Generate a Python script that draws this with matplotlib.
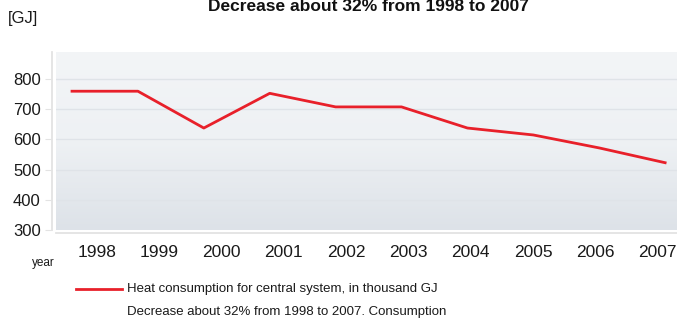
import matplotlib
matplotlib.use("Agg")
import matplotlib.pyplot as plt
import numpy as np

years = ["1998", "1999", "2000", "2001", "2002", "2003", "2004", "2005", "2006", "2007"]
heat = [760, 760, 638, 753, 708, 708, 638, 615, 572, 523]
y_ticks = [300, 400, 500, 600, 700, 800]

plt.rcParams["font.family"] = ["Liberation Sans", "DejaVu Sans"]

RED = "#e8202a"
TXT = "#1a1a1a"
fig = plt.figure(figsize=(6.77, 3.22), dpi=100)
ax = fig.add_axes([56 / 677, 1 - 230 / 322, 621 / 677, 178 / 322])

# 배경 그라데이션 (위 밝게 → 아래 약간 어둡게)
grad = np.linspace(0, 1, 256).reshape(-1, 1)
cmap = matplotlib.colors.LinearSegmentedColormap.from_list(
    "bg", ["#f3f5f7", "#eef1f4", "#dde2e8"])
ax.imshow(grad, extent=[0, 1, 0, 1], transform=ax.transAxes, aspect="auto",
          cmap=cmap, zorder=0)

x = np.arange(len(years))
ax.set_xlim(-0.243, 9.18)
ax.set_ylim(300, 890)
for v in y_ticks[1:]:
    ax.axhline(v, color="#dfe3e8", lw=1, zorder=1)
ax.plot(x, heat, color=RED, lw=2, zorder=3)

for s in ("top", "right"):
    ax.spines[s].set_visible(False)
ax.spines["left"].set_position(("outward", 3))
ax.spines["bottom"].set_position(("outward", 2))
for s in ("left", "bottom"):
    ax.spines[s].set_color("#e3e3e3")
    ax.spines[s].set_linewidth(1.3)
ax.set_yticks(y_ticks)
ax.set_yticklabels([str(v) for v in y_ticks], fontsize=12, color=TXT)
ax.tick_params(axis="y", length=5, color="#e3e3e3", pad=3)
# 라벨 위치는 데이터 점과 약간 어긋나 있음 (원본 그대로)
ax.set_xticks(0.38 + 0.945 * x)
ax.set_xticklabels(years, fontsize=12.5, color=TXT)
ax.tick_params(axis="x", length=0, pad=9)

fig.text(368 / 677, 1 - 14 / 322, "Decrease about 32% from 1998 to 2007", fontsize=12.5,
         fontweight="bold", ha="center", va="bottom", color="#111111")
fig.text(8 / 677, 1 - 18 / 322, "[GJ]", fontsize=12, ha="left", va="center", color=TXT)
fig.text(32 / 677, 1 - 263 / 322, "year", fontsize=8.5, ha="left", va="center", color=TXT)

fig.add_artist(matplotlib.lines.Line2D([76 / 677, 122 / 677], [1 - 289 / 322] * 2,
                                       color=RED, lw=2))
fig.text(127 / 677, 1 - 289 / 322, "Heat consumption for central system, in thousand GJ",
         fontsize=9.5, ha="left", va="center", color=TXT)
fig.text(127 / 677, 1 - 312 / 322, "Decrease about 32% from 1998 to 2007. Consumption",
         fontsize=9.5, ha="left", va="center", color=TXT)

fig.savefig("out.png", dpi=100)
